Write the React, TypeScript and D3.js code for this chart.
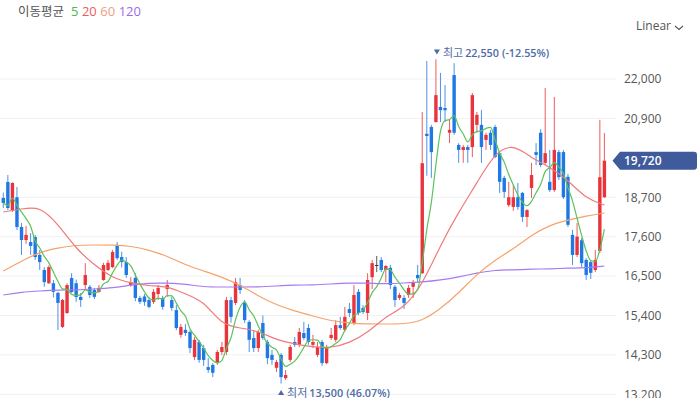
import React from "react";
import * as d3 from "d3";

// ---- Data ----
const opens = [
  18680, 19125, 18344, 18700, 17870, 17506, 17450, 17590, 17090, 16670,
  16300, 16300, 16030, 15080, 15470, 16445, 16300, 15920, 16250, 16200,
  16110, 16060, 16390, 16670, 16750, 17370, 17030, 16890, 16250, 16450,
  15890, 15930, 15830, 15780, 16000, 15890, 16140, 15830, 15550, 14860,
  15000, 14940, 14240, 14660, 14490, 13960, 14020, 14100, 14380, 14380,
  15830, 15750, 16250, 15750, 15220, 14770, 14490, 15190, 14660, 14300,
  13940, 14300, 13650, 14160, 14660, 14580, 14910, 15050, 14580, 14300,
  14660, 14070, 14770, 14720, 15130, 15000, 15580, 15190, 16060, 15610,
  15470, 16470, 16810, 16950, 16670, 16730, 16200, 15890, 15890, 15970,
  16200, 16530, 16580, 20470, 20660, 20800, 21220, 21190, 20500, 22110,
  20160, 20020, 20100, 20100, 20720, 20720, 20300, 20500, 20660, 19930,
  19240, 18480, 18430, 18700, 18820, 18150, 18960, 19960, 20500, 19660,
  19130, 18900, 19960, 19960, 19270, 17650, 17090, 17500, 16950, 16890,
  16670, 17200, 18700,
];
const highs = [
  18830, 19320, 19120, 18985, 17980, 17900, 17700, 17650, 17230, 16750,
  16800, 16390, 16060, 15860, 16300, 16580, 16400, 16030, 16860, 16250,
  16170, 16250, 16870, 16950, 17230, 17450, 17180, 17030, 16470, 16580,
  15950, 16000, 15920, 16140, 16250, 15950, 16390, 15920, 15690, 15160,
  15160, 15000, 14800, 14720, 14580, 14210, 14070, 14440, 14660, 15920,
  15920, 16450, 16450, 15830, 15270, 14990, 15000, 15400, 14720, 14440,
  14160, 14350, 13880, 14580, 14800, 15050, 15220, 15160, 14860, 14660,
  14720, 14580, 15050, 15270, 15360, 15640, 15750, 16250, 16140, 15690,
  16580, 16950, 17060, 17030, 16810, 16810, 16250, 16030, 15970, 16250,
  16390, 16810, 21080, 22500, 20720, 22550, 22170, 21830, 20860, 22440,
  20210, 20160, 20160, 21610, 21080, 21130, 20500, 20580, 20720, 19960,
  19300, 19130, 19050, 19100, 18850, 18370, 19660, 20210, 20600, 21750,
  20020, 21500, 20020, 20020, 19350, 17790, 17980, 17560, 17000, 16950,
  17230, 20860, 20490,
];
const lows = [
  18400, 18340, 18290, 17786, 17090, 17400, 17090, 16950, 16670, 16200,
  16280, 15900, 14995, 15050, 15440, 16030, 15780, 15640, 16110, 15890,
  15860, 16030, 16370, 16640, 16720, 16950, 16740, 16450, 16200, 15800,
  15720, 15670, 15600, 15720, 15830, 15560, 15920, 15530, 14990, 14780,
  14830, 14350, 14160, 14080, 13990, 13800, 13680, 14020, 14300, 14300,
  15200, 15690, 16000, 15190, 14380, 14380, 14380, 14720, 14040, 14020,
  13820, 13500, 13600, 14100, 14520, 14520, 14720, 14580, 14490, 14240,
  13990, 14040, 14720, 14660, 15000, 14940, 15360, 15130, 15410, 15440,
  15270, 16140, 16610, 16610, 16330, 16140, 15640, 15830, 15580, 15890,
  15890, 16330, 16560, 19300, 19240, 20780, 20800, 20800, 20210, 20440,
  19660, 19660, 19660, 19820, 20500, 19660, 20020, 20020, 19790, 18820,
  18680, 18430, 18320, 18350, 18010, 17870, 18680, 19600, 19540, 19600,
  18850, 18850, 19180, 18650, 17870, 16810, 17030, 16750, 16390, 16420,
  16610, 17150, 18680,
];
const closes = [
  18540, 18400, 19097, 17870, 17506, 17650, 17340, 17030, 16890, 16330,
  16750, 16060, 15750, 15832, 16250, 16055, 15915, 15830, 16530, 15970,
  15920, 16170, 16810, 16870, 17170, 17000, 16890, 16530, 16330, 15890,
  15780, 15780, 15640, 16060, 16170, 15640, 16250, 15610, 15050, 15080,
  14910, 14490, 14720, 14160, 14160, 13880, 13800, 14380, 14520, 15830,
  15360, 16330, 16110, 15270, 14720, 14490, 14940, 14770, 14210, 14160,
  14100, 13680, 13740, 14520, 14580, 14940, 14770, 14660, 14660, 14520,
  14070, 14520, 14860, 15130, 15050, 15360, 15470, 15970, 15470, 15500,
  16390, 16860, 16810, 16670, 16780, 16250, 15830, 15970, 15750, 16170,
  16330, 16440, 19650, 20410, 19960, 21550, 21130, 21130, 20580, 20500,
  20020, 20100, 20020, 21550, 21000, 20100, 20440, 20160, 19820, 19130,
  18850, 18700, 18700, 18430, 18150, 18340, 19320, 19880, 19600, 19930,
  18900, 20020, 19260, 18700, 17930, 17090, 17600, 16860, 16530, 16590,
  16950, 19260, 19720,
];

// moving averages read every 4th candle (index 0,4,...,132)
const ma20Values = [
  18288, 18372, 18456, 17953, 17255, 16809, 16446, 16306, 16223, 16223,
  16000, 15804, 15134, 15050, 14967, 14716, 14604, 14520, 14492, 14632,
  14911, 15385, 15609, 16250, 17367, 18288, 19097, 19963, 20186, 19795,
  19544, 19181, 18651, 18483,
];
const ma60Values = [
  16641, 16920, 17172, 17283, 17367, 17367, 17367, 17339, 17227, 17060,
  16809, 16641, 16474, 16250, 15943, 15692, 15525, 15385, 15246, 15190,
  15162, 15162, 15162, 15246, 15581, 16027, 16558, 16948, 17255, 17646,
  17925, 18065, 18176, 18260,
];
const ma120Values = [
  15971, 16055, 16083, 16111, 16111, 16139, 16167, 16250, 16306, 16306,
  16278, 16195, 16195, 16195, 16195, 16223, 16250, 16250, 16278, 16306,
  16306, 16278, 16306, 16334, 16390, 16474, 16585, 16669, 16669, 16697,
  16697, 16725, 16725, 16781,
];
const maStep = 4;

const yTicks = [13200, 14300, 15400, 16500, 17600, 18700, 20900, 22000];
const lastPrice = 19720;
const highInfo = { index: 95, value: 22550, label: "최고", pct: "(-12.55%)" };
const lowInfo = { index: 61, value: 13500, label: "최저", pct: "(46.07%)" };
const legendItems = [
  { label: "5", color: "#4cb84c" },
  { label: "20", color: "#f05a5a" },
  { label: "60", color: "#f0a080" },
  { label: "120", color: "#9a6af0" },
];

const W = 700;
const H = 398;
const KFONT = "'Noto Sans CJK KR', 'Noto Sans', sans-serif";
const NFONT = "'Open Sans', 'Noto Sans', sans-serif";
const UP = "#e8343a";
const DOWN = "#1f78e3";

export default function App() {
  const N = closes.length;
  const x = d3.scaleLinear().domain([0, N - 1]).range([3.3, 604.4]);
  const y = d3.scaleLinear().domain([13200, 22000]).range([394.3, 79]);
  const fmt = d3.format(",");

  const ma5 = closes.map((_, i) => {
    const s = closes.slice(Math.max(0, i - 4), i + 1);
    return d3.mean(s) as number;
  });

  const lineIdx = d3
    .line<number>()
    .x((_, i) => x(i))
    .y((d) => y(d))
    .curve(d3.curveMonotoneX);
  const lineSampled = d3
    .line<number>()
    .x((_, i) => x(i * maStep))
    .y((d) => y(d))
    .curve(d3.curveBasis);

  const bw = 3.4;
  const gridRight = 616;
  const tagY = y(lastPrice);

  const annot = (info: typeof highInfo, down: boolean, ty: number, tx: number) => (
    <g fill="#4e6aa6">
      <path
        d={
          down
            ? `M${tx},${ty - 7.5} L${tx + 6},${ty - 7.5} L${tx + 3},${ty - 2.5} Z`
            : `M${tx},${ty - 2} L${tx + 6},${ty - 2} L${tx + 3},${ty - 7} Z`
        }
      />
      <text x={tx + 9} y={ty} fontSize={11} fontFamily={KFONT}>
        {info.label}
        <tspan dx={2} fontFamily={NFONT} fontSize={10.8} fontWeight={600}>
          {fmt(info.value)}
        </tspan>
        <tspan dx={3} fontFamily={NFONT} fontSize={10.8} fontWeight={600}>
          {info.pct}
        </tspan>
      </text>
    </g>
  );

  return (
    <svg
      width={W}
      height={H}
      style={{ position: "absolute", left: 0, top: 0, background: "#fff" }}
      fontFamily={NFONT}
    >
      {/* legend */}
      <g>
        <text x={18} y={16} fontSize={12.5} fill="#555" fontFamily={KFONT}>
          이동평균
        </text>
        <text x={71} y={16} fontSize={13} fontFamily={NFONT}>
          {legendItems.map((l, i) => (
            <tspan key={i} dx={i === 0 ? 0 : 3.5} fill={l.color}>
              {l.label}
            </tspan>
          ))}
        </text>
      </g>
      {/* Linear dropdown */}
      <text x={636} y={30} fontSize={12} fill="#555">
        Linear
      </text>
      <path d="M675,26 L679,29.5 L683,26" fill="none" stroke="#555" strokeWidth={1.1} />

      {/* grid */}
      {yTicks.map((t) => (
        <g key={t}>
          <line x1={0} x2={gridRight} y1={y(t)} y2={y(t)} stroke="#f1f1f1" strokeWidth={1} />
          <text x={624} y={y(t)} dy="0.36em" fontSize={12} fill="#555">
            {fmt(t)}
          </text>
        </g>
      ))}

      {/* candles */}
      {closes.map((c, i) => {
        const o = opens[i];
        const col = c > o ? UP : c < o ? DOWN : "#333";
        const top = y(Math.max(o, c));
        const bot = y(Math.min(o, c));
        const cx = x(i);
        return (
          <g key={i}>
            <line x1={cx} x2={cx} y1={y(highs[i])} y2={y(lows[i])} stroke={col} strokeWidth={1} opacity={0.8} />
            <rect x={cx - bw / 2} y={top} width={bw} height={Math.max(1, bot - top)} fill={col} />
          </g>
        );
      })}

      {/* moving averages */}
      <path d={lineSampled(ma120Values) || ""} fill="none" stroke="#a77af2" strokeWidth={1.2} />
      <path d={lineSampled(ma60Values) || ""} fill="none" stroke="#f5a36c" strokeWidth={1.2} />
      <path d={lineSampled(ma20Values) || ""} fill="none" stroke="#f07a7a" strokeWidth={1.2} />
      <path d={lineIdx(ma5) || ""} fill="none" stroke="#5cc25c" strokeWidth={1.2} />

      {/* annotations */}
      {annot(highInfo, true, 57, x(highInfo.index) - 2)}
      {annot(lowInfo, false, 397, x(lowInfo.index) - 3)}

      {/* current price tag */}
      <path
        d={`M612.5,${tagY} L620,${tagY - 9} L694,${tagY - 9} Q697,${tagY - 9} 697,${tagY - 6} L697,${tagY + 6} Q697,${tagY + 9} 694,${tagY + 9} L620,${tagY + 9} Z`}
        fill="#3f5b9c"
      />
      <text x={624} y={tagY} dy="0.36em" fontSize={12} fill="#fff" fontWeight={600}>
        {fmt(lastPrice)}
      </text>
    </svg>
  );
}
